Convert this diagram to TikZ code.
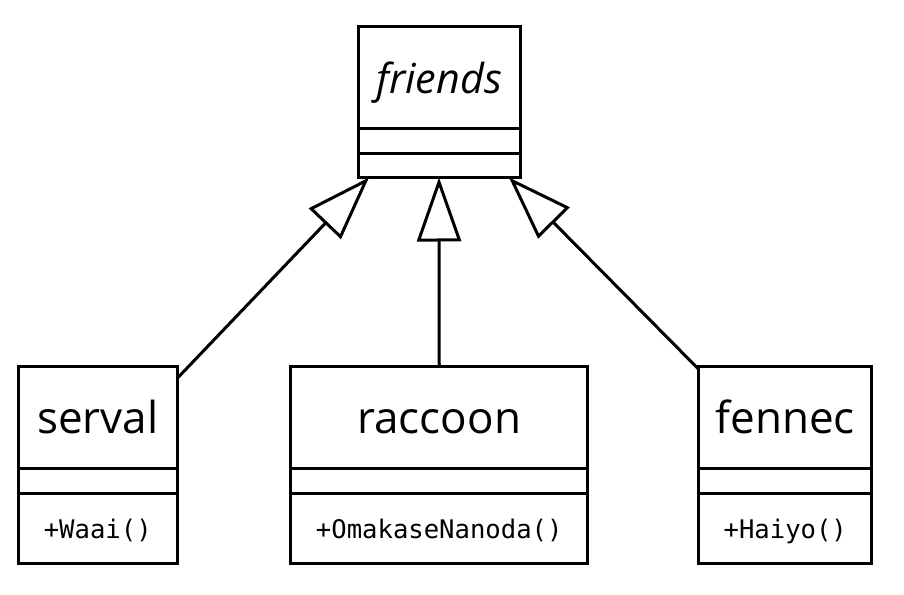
\documentclass[tikz,border=0pt]{standalone}
\usepackage{fontspec}
\setmainfont{Open Sans}
\setmonofont{DejaVu Sans Mono}
\usetikzlibrary{arrows.meta,positioning}
\tikzset{
	classname/.style={
		draw, line width=2.25pt, outer sep=0pt, inner sep=0pt,
		minimum height=76.5pt, text height=24pt, text depth=0pt,
		font=\fontsize{33}{38}\selectfont
	},
	classpart/.style={
		draw, line width=2.25pt, outer sep=0pt, inner sep=0pt,
		minimum height=18.75pt
	},
	classops/.style={
		draw, line width=2.25pt, outer sep=0pt, inner sep=0pt,
		minimum height=52.5pt, text height=15pt, text depth=0pt,
		font=\ttfamily\fontsize{19.2}{23}\selectfont
	},
	extends/.style={
		line width=2.25pt,
		-{Triangle[open, length=48pt, width=33pt]}
	}
}

\begin{document}
\begin{tikzpicture}[x=0.75pt,y=-0.75pt]
		\useasboundingbox (0,0) rectangle (904,595);
		% parent class
		\node[classname, minimum width=121.5pt, font=\itshape\fontsize{31}{36}\selectfont] (friends) at (439,77.5) {friends};
		\node[classpart, minimum width=121.5pt, below=0pt of friends] (friendsattr) {};
		\node[classpart, minimum width=121.5pt, minimum height=18pt, below=0pt of friendsattr] (friendsops) {};
		
		% child classes
		\node[classname, minimum width=119pt] (serval) at (97.75,417.5) {serval};
		\node[classpart, minimum width=119pt, below=0pt of serval] (servalattr) {};
		\node[classops, minimum width=119pt, below=0pt of servalattr] (servalops) {+Waai()};
		
		\node[classname, minimum width=223pt] (raccoon) at (439.25,417.5) {raccoon};
		\node[classpart, minimum width=223pt, below=0pt of raccoon] (raccoonattr) {};
		\node[classops, minimum width=223pt, below=0pt of raccoonattr] (raccoonops) {+OmakaseNanoda()};
		
		\node[classname, minimum width=130pt] (fennec) at (785.25,417.5) {fennec};
		\node[classpart, minimum width=130pt, below=0pt of fennec] (fennecattr) {};
		\node[classops, minimum width=130pt, below=0pt of fennecattr] (fennecops) {+Haiyo()};
		
		% generalisation
		\draw[extends] ([yshift=-9pt]serval.north east) -- ([xshift=-52.5pt]friendsops.south);
		\draw[extends] (raccoon.north) -- (friendsops.south);
		\draw[extends] ([yshift=-2pt]fennec.north west) -- ([xshift=52.5pt]friendsops.south);
\end{tikzpicture}
\end{document}
